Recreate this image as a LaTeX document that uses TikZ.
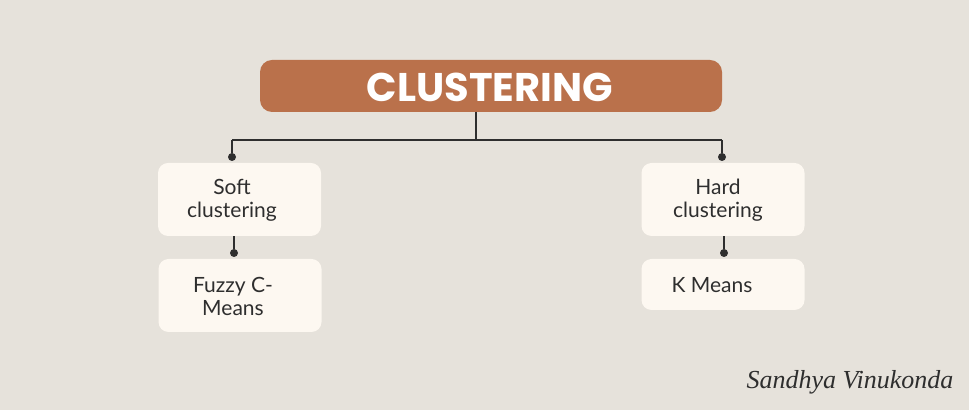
\documentclass[tikz,border=0pt]{standalone}
\usepackage{fontspec}
\setmainfont{Lato}
\newfontfamily\titlefont{Poppins}
\newfontfamily\signfont{Liberation Serif}
\usetikzlibrary{positioning}

\definecolor{paper}{HTML}{E6E2DB}
\definecolor{rust}{HTML}{BA714B}
\definecolor{cream}{HTML}{FDF8F1}
\definecolor{ink}{HTML}{2E2E2E}

\tikzset{
  titlebox/.style={fill=rust, rounded corners=6pt, minimum width=231pt,
    minimum height=26pt, inner sep=0pt},
  leafbox/.style={fill=cream, rounded corners=5pt, minimum width=81.5pt,
    inner sep=0pt},
  leaftext/.style={inner sep=0pt, align=center,
    font=\fontsize{10.5}{11.5}\selectfont, text=ink},
  link/.style={draw=ink, line width=1pt},
  knot/.style={circle, fill=ink, inner sep=0pt, minimum size=4pt},
}

\begin{document}
\begin{tikzpicture}[x=0.5pt,y=-0.5pt]
\fill [paper] (0,0) rectangle (969,410);
\useasboundingbox (0,0) rectangle (969,410);

% top box
\node [titlebox] (title) at (491,86) {};
\node [text=white, font=\titlefont\bfseries\fontsize{20}{20}\selectfont] (titletext) at (490,87) {CLUSTERING};

% boxes
\node [leafbox, minimum height=36.5pt] (soft) at (239.5,199.5) {};
\node [leaftext] (softtext) at (232,200) {Soft\\clustering};
\node [leafbox, minimum height=36.5pt] (hard) at (723,199.5) {};
\node [leaftext] (hardtext) at (718,200) {Hard\\clustering};
\node [leafbox, minimum height=36.5pt] (fuzzy) at (240,295.5) {};
\node [leaftext] (fuzzytext) at (233,296) {Fuzzy C-\\Means};
\node [leafbox, minimum height=25.5pt] (kmeans) at (723,284.5) {};
\node [leaftext] (kmeanstext) at (712,285) {K Means};

% connectors
\coordinate (stem) at (476,112);
\coordinate (split) at (476,140);
\coordinate (lsplit) at (232,140);
\coordinate (rsplit) at (722,140);
\node [knot] (ldot) at (232,157) {};
\node [knot] (rdot) at (722,157) {};
\node [knot] (ldot2) at (234,253) {};
\node [knot] (rdot2) at (724,253) {};

\draw [link] (stem) -- (split);
\draw [link] (lsplit) -- (rsplit);
\draw [link] (lsplit) -- (ldot);
\draw [link] (rsplit) -- (rdot);
\draw [link] (ldot2 |- soft.south) -- (ldot2);
\draw [link] (rdot2 |- hard.south) -- (rdot2);

\node [text=ink, font=\signfont\itshape\fontsize{13}{14}\selectfont] (sign) at (850,382) {Sandhya Vinukonda};
\end{tikzpicture}
\end{document}
